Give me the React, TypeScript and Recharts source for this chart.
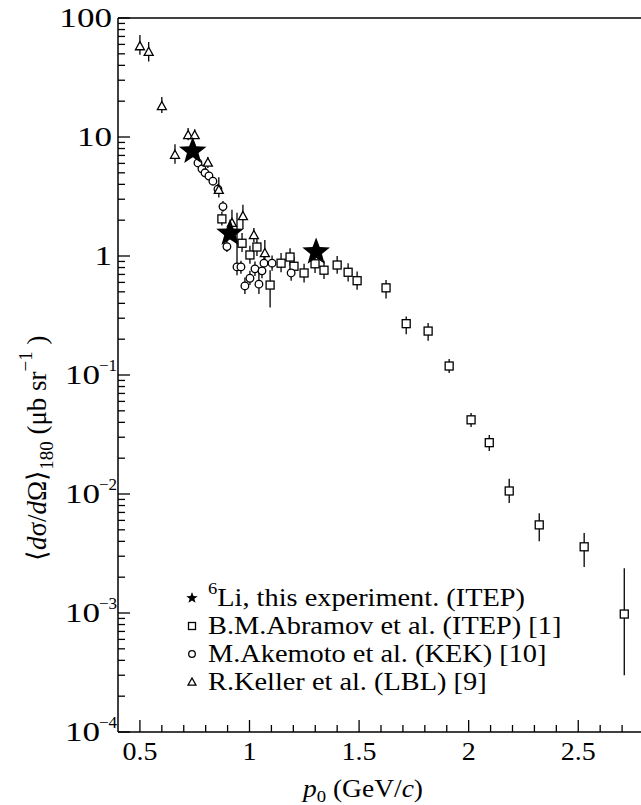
import React from "react";
import { ScatterChart, Scatter, XAxis, YAxis, ErrorBar, ReferenceLine, Legend, Label } from "recharts";

const FONT = '"Liberation Serif", "Times New Roman", Times, serif';

// 6Li, this experiment (ITEP)
const LI6_P = [0.741, 0.911, 1.304];
const LI6_XS = [7.6, 1.55, 1.08];

// B.M.Abramov et al. (ITEP) [1]
const ABR_P = [0.874, 0.966, 1.002, 1.034, 1.094, 1.144, 1.185, 1.203, 1.249, 1.299, 1.34, 1.4, 1.45, 1.491, 1.623, 1.715, 1.815, 1.911, 2.011, 2.094, 2.185, 2.322, 2.527, 2.71];
const ABR_XS = [2.05, 1.28, 1.02, 1.19, 0.57, 0.87, 0.98, 0.82, 0.72, 0.86, 0.76, 0.84, 0.73, 0.62, 0.54, 0.27, 0.234, 0.119, 0.042, 0.027, 0.0106, 0.0055, 0.0036, 0.00098];
const ABR_LO = [0.25, 0.2, 0.16, 0.19, 0.2, 0.14, 0.15, 0.13, 0.12, 0.14, 0.12, 0.13, 0.12, 0.1, 0.1, 0.05, 0.04, 0.015, 0.0055, 0.004, 0.0022, 0.0015, 0.00116, 0.00068];
const ABR_HI = [0.3, 0.28, 0.2, 0.23, 0.19, 0.19, 0.18, 0.16, 0.14, 0.17, 0.15, 0.16, 0.14, 0.12, 0.09, 0.04, 0.04, 0.017, 0.006, 0.0043, 0.0028, 0.0014, 0.0011, 0.0014];

// M.Akemoto et al. (KEK) [10]
const KEK_P = [0.765, 0.783, 0.797, 0.815, 0.833, 0.856, 0.879, 0.897, 0.943, 0.961, 0.979, 1.002, 1.025, 1.043, 1.057, 1.066, 1.103, 1.19];
const KEK_XS = [6.05, 5.4, 5.0, 4.7, 4.25, 3.65, 2.6, 1.2, 0.81, 0.81, 0.56, 0.65, 0.78, 0.58, 0.75, 0.87, 0.87, 0.72];
const KEK_LO = [0.35, 0.3, 0.3, 0.3, 0.3, 0.3, 0.25, 0.12, 0.12, 0.1, 0.08, 0.08, 0.1, 0.1, 0.1, 0.12, 0.12, 0.1];
const KEK_HI = [0.4, 0.35, 0.3, 0.3, 0.35, 0.4, 0.3, 0.15, 1.5, 0.1, 0.1, 0.1, 0.12, 0.15, 0.12, 0.14, 0.14, 0.12];

// R.Keller et al. (LBL) [9]
const LBL_P = [0.5, 0.54, 0.6, 0.66, 0.72, 0.75, 0.81, 0.86, 0.92, 0.97, 1.02, 1.07];
const LBL_XS = [58, 52, 18.2, 7.1, 10.4, 10.4, 6.1, 3.6, 1.9, 2.17, 1.5, 1.06];
const LBL_LO = [9, 9, 2.3, 1.15, 1.0, 0.8, 0.6, 0.5, 0.42, 0.48, 0.19, 0.24];
const LBL_HI = [14, 11, 3.5, 1.6, 1.5, 1.2, 0.7, 1.0, 0.55, 0.52, 0.22, 0.3];

const X_MAJOR = [0.5, 1, 1.5, 2, 2.5];
const X_MAJOR_LABELS = ["0.5", "1", "1.5", "2", "2.5"];
const X_MINOR = [0.6, 0.7, 0.8, 0.9, 1.1, 1.2, 1.3, 1.4, 1.6, 1.7, 1.8, 1.9, 2.1, 2.2, 2.3, 2.4, 2.6, 2.7];
const X_TICKS = [...X_MAJOR, ...X_MINOR].sort((a, b) => a - b);

const Y_DECADES = [1e-4, 1e-3, 1e-2, 0.1, 1, 10, 100];
const Y_BASE = ["10", "10", "10", "10", "1", "10", "100"];
const Y_EXP = ["−4", "−3", "−2", "−1", "", "", ""];
const Y_MINOR_MULTS = [2, 3, 4, 5, 6, 7, 8, 9];
const Y_TICKS = [
  ...Y_DECADES,
  ...Y_DECADES.slice(0, -1).flatMap((d) => Y_MINOR_MULTS.map((m) => m * d)),
];

const LEGEND_LABELS = [
  "Li, this experiment. (ITEP)",
  "B.M.Abramov et al. (ITEP) [1]",
  "M.Akemoto et al. (KEK) [10]",
  "R.Keller et al. (LBL) [9]",
];

const pts = (p: number[], v: number[], lo?: number[], hi?: number[]) =>
  p.map((x, i) => ({ x, y: v[i], err: lo && hi ? [lo[i], hi[i]] : [0, 0] }));

const li6 = pts(LI6_P, LI6_XS);
const abramov = pts(ABR_P, ABR_XS, ABR_LO, ABR_HI);
const kek = pts(KEK_P, KEK_XS, KEK_LO, KEK_HI);
const lbl = pts(LBL_P, LBL_XS, LBL_LO, LBL_HI);

const starPath = (cx: number, cy: number, R: number, r: number) => {
  const p: string[] = [];
  for (let k = 0; k < 10; k++) {
    const rad = k % 2 === 0 ? R : r;
    const a = -Math.PI / 2 + (k * Math.PI) / 5;
    p.push(`${cx + rad * Math.cos(a)},${cy + rad * Math.sin(a)}`);
  }
  return `M${p.join("L")}Z`;
};

const starShape = (R: number) => (props: any) => (
  <path d={starPath(props.cx, props.cy, R, R * 0.42)} fill="#000" />
);
const squareShape = (s: number) => (props: any) => (
  <rect x={props.cx - s / 2} y={props.cy - s / 2} width={s} height={s} fill="#fff" stroke="#000" strokeWidth={1.3} />
);
const circleShape = (r: number) => (props: any) => (
  <circle cx={props.cx} cy={props.cy} r={r} fill="#fff" stroke="#000" strokeWidth={1.3} />
);
const triangleShape = (s: number) => (props: any) => (
  <path
    d={`M${props.cx},${props.cy - s * 0.5}L${props.cx + s / 2},${props.cy + s * 0.4}L${props.cx - s / 2},${props.cy + s * 0.4}Z`}
    fill="#fff"
    stroke="#000"
    strokeWidth={1.3}
  />
);

const XTick = ({ x, y, payload }: any) => {
  const i = X_MAJOR.findIndex((v) => Math.abs(v - payload.value) < 1e-6);
  const major = i >= 0;
  return (
    <g>
      <line x1={x} x2={x} y1={y} y2={y - (major ? 12 : 7)} stroke="#000" strokeWidth={1.3} />
      {major && (
        <text
          transform={`translate(${x},${y + 28}) scale(1.12,1)`}
          textAnchor="middle"
          fontFamily={FONT}
          fontSize={25}
          fill="#000"
        >
          {X_MAJOR_LABELS[i]}
        </text>
      )}
    </g>
  );
};

const YTick = ({ x, y, payload }: any) => {
  const i = Y_DECADES.findIndex((v) => Math.abs(payload.value / v - 1) < 1e-6);
  const major = i >= 0;
  const exp = major ? Y_EXP[i] : "";
  return (
    <g>
      <line x1={x} x2={x + (major ? 12 : 7)} y1={y} y2={y} stroke="#000" strokeWidth={1.3} />
      {major && (
        <text
          transform={`translate(${exp ? x - 18 : x - 6},${y + 9}) scale(1.3,1)`}
          textAnchor="end"
          fontFamily={FONT}
          fontSize={27}
          fill="#000"
        >
          {Y_BASE[i]}
        </text>
      )}
      {exp && (
        <text x={x - 19} y={y - 4} textAnchor="start" fontFamily={FONT} fontSize={17} fill="#000">
          {exp}
        </text>
      )}
    </g>
  );
};

const YTitle = () => (
  <text
    transform="translate(46, 561) rotate(-90)"
    textAnchor="start"
    fontFamily={FONT}
    fontSize={27}
    fill="#000"
  >
    ⟨<tspan fontStyle="italic">d</tspan>σ/<tspan fontStyle="italic">d</tspan>Ω⟩
    <tspan dy={7} fontSize={19}>180</tspan>
    <tspan dy={-7}> (μb sr</tspan>
    <tspan dy={-14} fontSize={19}>−1</tspan>
    <tspan dy={14}> )</tspan>
  </text>
);

const XTitle = () => (
  <text
    transform="translate(363, 797) scale(1.1,1)"
    textAnchor="middle"
    fontFamily={FONT}
    fontSize={25}
    fill="#000"
  >
    <tspan fontStyle="italic">p</tspan>
    <tspan dy={5} fontSize={17}>0</tspan>
    <tspan dy={-5}> (GeV/</tspan>
    <tspan fontStyle="italic">c</tspan>)
  </text>
);

const StarMark = starShape(14.5);
const SquareMark = squareShape(8);
const CircleMark = circleShape(3.8);
const TriangleMark = triangleShape(9);

const LEGEND_MARKS = [
  starShape(6)({ cx: 10, cy: 10 }),
  squareShape(7)({ cx: 10, cy: 10 }),
  circleShape(3.3)({ cx: 10, cy: 10 }),
  triangleShape(8)({ cx: 10, cy: 10 }),
];

const LegendContent = () => (
  <div style={{ fontFamily: FONT, fontSize: 26, color: "#000" }}>
    {LEGEND_LABELS.map((label, i) => (
      <div key={label} style={{ display: "flex", alignItems: "center", height: 28 }}>
        <svg width={20} height={20}>{LEGEND_MARKS[i]}</svg>
        <span
          style={{
            marginLeft: 6,
            whiteSpace: "nowrap",
            display: "inline-block",
            transform: "scaleX(1.09)",
            transformOrigin: "left center",
          }}
        >
          {i === 0 && <span style={{ fontSize: 17, position: "relative", top: -12 }}>6</span>}
          {label}
        </span>
      </div>
    ))}
  </div>
);

export default function App() {
  return (
    <div style={{ position: "absolute", left: 0, top: 0, width: 641, height: 805, overflow: "hidden", background: "#fff" }}>
      <ScatterChart width={650} height={805} margin={{ top: 18, right: 6, bottom: 0, left: 0 }}>
        <XAxis
          type="number"
          dataKey="x"
          domain={[0.4, 2.8]}
          ticks={X_TICKS}
          interval={0}
          tick={XTick}
          tickLine={false}
          tickSize={0}
          tickMargin={0}
          height={73}
          axisLine={{ stroke: "#000", strokeWidth: 1.5 }}
          allowDataOverflow
        >
          <Label content={XTitle} />
        </XAxis>
        <YAxis
          type="number"
          dataKey="y"
          scale="log"
          domain={[1e-4, 100]}
          ticks={Y_TICKS}
          interval={0}
          tick={YTick}
          tickLine={false}
          tickSize={0}
          tickMargin={0}
          width={118}
          axisLine={{ stroke: "#000", strokeWidth: 1.5 }}
          allowDataOverflow
        >
          <Label content={YTitle} />
        </YAxis>
        <ReferenceLine y={100} stroke="#000" strokeWidth={1.5} />
        <Scatter data={abramov} shape={SquareMark} isAnimationActive={false}>
          <ErrorBar dataKey="err" direction="y" width={0} stroke="#000" strokeWidth={1.3} />
        </Scatter>
        <Scatter data={kek} shape={CircleMark} isAnimationActive={false}>
          <ErrorBar dataKey="err" direction="y" width={0} stroke="#000" strokeWidth={1.3} />
        </Scatter>
        <Scatter data={lbl} shape={TriangleMark} isAnimationActive={false}>
          <ErrorBar dataKey="err" direction="y" width={0} stroke="#000" strokeWidth={1.3} />
        </Scatter>
        <Scatter data={li6} shape={StarMark} isAnimationActive={false} />
        <Legend
          layout="vertical"
          align="center"
          verticalAlign="middle"
          content={LegendContent}
          wrapperStyle={{ left: 182, top: 584, width: 440 }}
        />
      </ScatterChart>
    </div>
  );
}
